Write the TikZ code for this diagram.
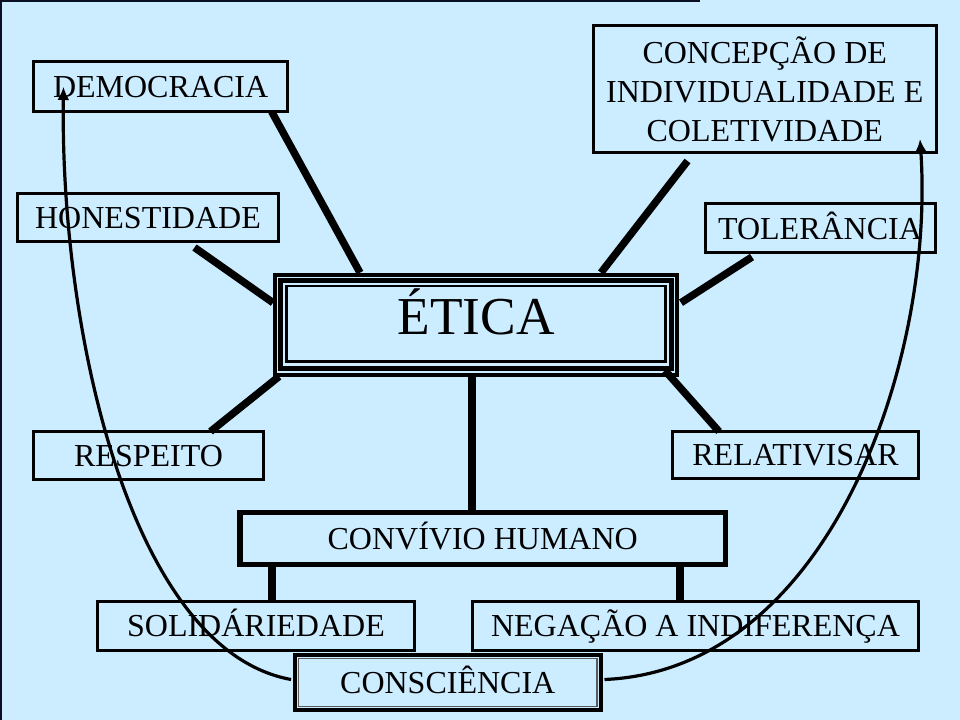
\documentclass[tikz,border=0pt]{standalone}
\usepackage{fontspec}
\setmainfont{Liberation Serif}
\usetikzlibrary{arrows.meta,calc}
\definecolor{bgblue}{RGB}{204,236,255}
\definecolor{framecol}{RGB}{10,15,35}
\newcommand{\mkbox}[7][]{\node[box,#1,minimum width={(#5-#3)*0.75pt},minimum height={(#6-#4)*0.75pt}] (#2) at ({(#3+#5)/2},{(#4+#6)/2}) {#7};}
\begin{document}
\begin{tikzpicture}[x=0.75pt,y=-0.75pt,
  box/.style={draw=black,line width=2.25pt,inner sep=0pt,outer sep=0pt,align=center,
    font=\fontsize{24}{29}\selectfont,text height=15.9pt,text depth=0pt},
  conn/.style={line width=5.6pt},
  arc/.style={line width=2.4pt,-{Latex[length=10pt,width=9pt]}}]
\useasboundingbox (0,0) rectangle (960,720);
\fill[bgblue] (0,0) rectangle (960,720);
\draw[framecol,line width=1.2pt] (0.8,720) -- (0.8,0.8) -- (700,0.8);
% boxes
\mkbox{demo}{33.5}{61.7}{287.7}{111.7}{DEMOCRACIA}
\node[box,text height=,text depth=,minimum width={(936-593.5)*0.75pt},minimum height={(152-25)*0.75pt}] (concep) at ({(593.5+936)/2},{(25+152)/2+1}) {CONCEPÇÃO DE\\INDIVIDUALIDADE E\\COLETIVIDADE};
\mkbox{hon}{17.5}{193.5}{278.5}{241.5}{HONESTIDADE}
\mkbox{tol}{705}{204}{935}{253}{TOLERÂNCIA}
\mkbox{resp}{33.5}{431.5}{263.5}{479.5}{RESPEITO}
\mkbox{rel}{672.5}{431.5}{918.5}{478.5}{RELATIVISAR}
\mkbox[line width=4.1pt]{conv}{240}{512.5}{725.5}{564.5}{CONVÍVIO HUMANO}
\mkbox{sol}{97.5}{601}{414.5}{650}{SOLIDÁRIEDADE}
\mkbox{neg}{472.5}{601}{918.5}{650}{NEGAÇÃO A INDIFERENÇA}
% etica
\node[box,line width=3pt,font=\fontsize{40}{48}\selectfont,text height=26.5pt,text depth=12pt,
  minimum width={(677-275)*0.75pt},minimum height={(374.5-274.7)*0.75pt}] (etica) at ({(275+677)/2},{(274.7+374.5)/2}) {ÉTICA};
\draw[line width=3.75pt] ($(etica.north west)+(5.8,5.8)$) rectangle ($(etica.south east)+(-5.8,-6.5)$);
\draw[line width=1.6pt] ($(etica.north west)+(11.5,11.5)$) rectangle ($(etica.south east)+(-11.5,-13)$);
% consciencia
\mkbox[line width=3pt,fill=bgblue]{cons}{295}{655}{600.5}{710}{CONSCIÊNCIA}
\draw[gray!70!black,line width=0.9pt] ($(cons.north west)+(3.6,3.6)$) rectangle ($(cons.south east)+(-3.6,-3.6)$);
% connectors
\draw[conn] ($(demo.south east)+(-16,0)$) -- ($(etica.north west)+(85,-2)$);
\draw[conn] ($(concep.south west)+(94,8)$) -- ($(etica.north east)+(-76,-2)$);
\draw[conn] ($(hon.south east)+(-84,6)$) -- ($(etica.north west)+(-2,28)$);
\draw[conn] ($(tol.south west)+(47,4)$) -- ($(etica.north east)+(4,28)$);
\draw[conn] ($(resp.north)+(62,0)$) -- ($(etica.south west)+(4,2)$);
\draw[conn] ($(etica.south east)+(-12,-4)$) -- ($(rel.north west)+(46.5,0)$);
\coordinate (ec) at ($(etica.south)+(-4,2)$);
\draw[conn] (ec) -- (ec |- conv.north);
\coordinate (cs) at ($(conv.south west)+(32,2)$);
\draw[conn] (cs) -- (cs |- sol.north);
\coordinate (cn) at ($(conv.south east)+(-45.5,2)$);
\draw[conn] (cn) -- (cn |- neg.north);
% curved arrows
\coordinate (tipL) at ($(demo.west)+(30,0)$);
\coordinate (tipR) at ($(concep.south east)+(-16,-14)$);
\draw[arc] ($(cons.west)+(-4,-3)$) .. controls (130,650) and (60,330) .. (tipL);
\draw[arc] ($(cons.east)+(4,-3)$) .. controls (830,670) and (935,360) .. (tipR);
\end{tikzpicture}
\end{document}
